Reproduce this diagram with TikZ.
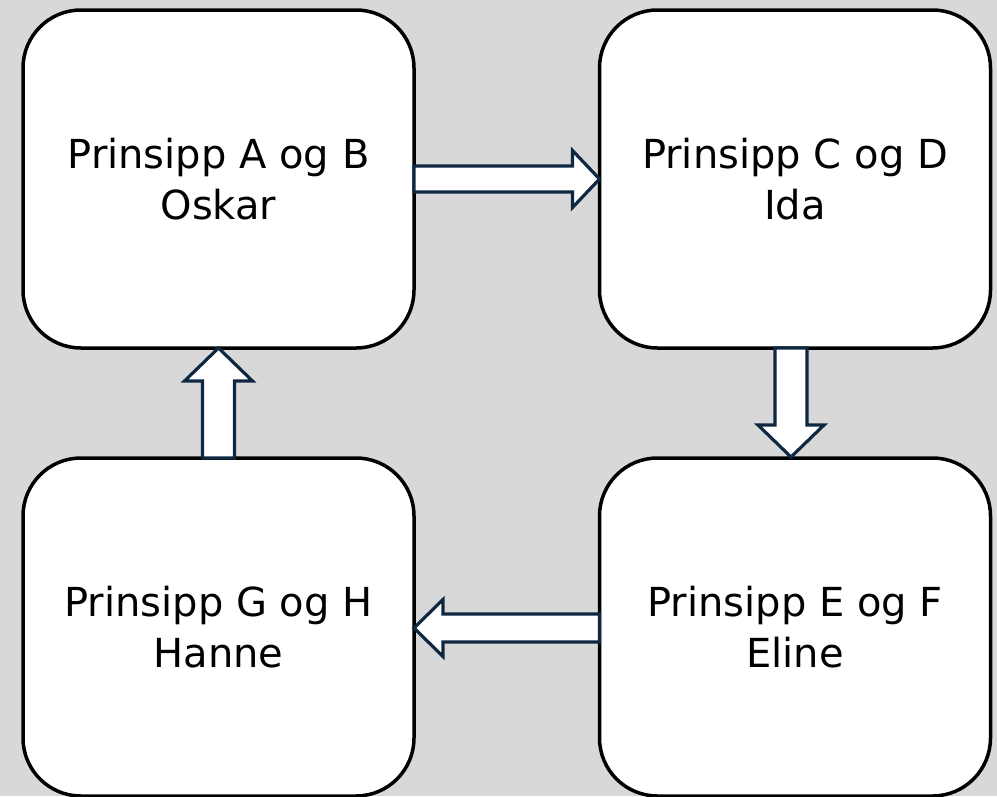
\documentclass[tikz,border=0pt]{standalone}
\usepackage{fontspec}
\setmainfont{DejaVu Sans}
\usetikzlibrary{calc}
\definecolor{bg}{HTML}{D8D8D8}
\definecolor{navy}{HTML}{0E2841}
\begin{document}
\begin{tikzpicture}[x=1pt,y=-1pt,
  box/.style={draw=black, fill=white, line width=3.5pt, rounded corners=58pt,
    minimum width=391pt, minimum height=338pt, inner sep=0pt, outer sep=0pt,
    align=center, font=\fontsize{40}{51}\selectfont},
  blockarrow/.style={draw=navy, fill=white, line width=3.2pt, line join=miter}]
\fill[bg] (0,0) rectangle (997,796);
\useasboundingbox (0,0) rectangle (997,796);
\node[box] (A) at (218.5,179) {Prinsipp A og B\\Oskar};
\node[box] (C) at (795,179) {Prinsipp C og D\\Ida};
\node[box] (G) at (218.5,627) {Prinsipp G og H\\Hanne};
\node[box] (E) at (795,627) {Prinsipp E og F\\Eline};
% A -> C
\draw[blockarrow] ($(A.east)+(0,-13)$) -- ($(C.west)+(-27,-13)$) -- ($(C.west)+(-27,-28.5)$)
  -- (C.west) -- ($(C.west)+(-27,28.5)$) -- ($(C.west)+(-27,13)$) -- ($(A.east)+(0,13)$) -- cycle;
% C -> E
\coordinate (ce1) at ($(C.south)+(-4,0)$);
\coordinate (ce2) at ($(E.north)+(-4,-1)$);
\draw[blockarrow] ($(ce1)+(-16,0)$) -- ($(ce2)+(-16,-32)$) -- ($(ce2)+(-33,-32)$)
  -- (ce2) -- ($(ce2)+(33,-32)$) -- ($(ce2)+(16,-32)$) -- ($(ce1)+(16,0)$) -- cycle;
% E -> G
\coordinate (eg1) at ($(E.west)+(0,1)$);
\coordinate (eg2) at ($(G.east)+(0,1)$);
\draw[blockarrow] ($(eg1)+(0,-14)$) -- ($(eg2)+(29,-14)$) -- ($(eg2)+(29,-28.5)$)
  -- (eg2) -- ($(eg2)+(29,28.5)$) -- ($(eg2)+(29,14)$) -- ($(eg1)+(0,14)$) -- cycle;
% G -> A
\draw[blockarrow] ($(G.north)+(-16,0)$) -- ($(A.south)+(-16,33)$) -- ($(A.south)+(-34,33)$)
  -- (A.south) -- ($(A.south)+(34,33)$) -- ($(A.south)+(16,33)$) -- ($(G.north)+(16,0)$) -- cycle;
\end{tikzpicture}
\end{document}
